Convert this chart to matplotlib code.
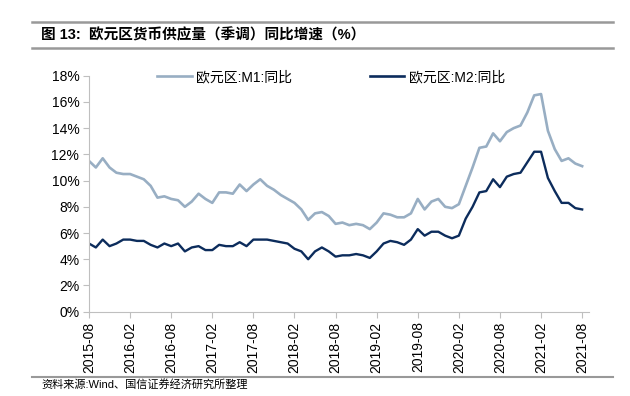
import numpy as np
import pandas as pd
from matplotlib import pyplot as plt
from matplotlib.lines import Line2D

plt.rcParams['font.family'] = ['Liberation Sans', 'Noto Sans CJK SC', 'DejaVu Sans']

# monthly data, 2015-08 .. 2021-08
months = pd.date_range("2015-08-01", "2021-08-01", freq="MS")
m1 = [11.5, 11.0, 11.7, 11.0, 10.6, 10.5, 10.5, 10.3, 10.1, 9.6,
      8.7, 8.8, 8.6, 8.5, 8.0, 8.4, 9.0, 8.6, 8.3, 9.1,
      9.1, 9.0, 9.7, 9.2, 9.7, 10.1, 9.6, 9.3, 8.9, 8.6,
      8.3, 7.8, 7.0, 7.5, 7.6, 7.3, 6.7, 6.8, 6.6, 6.7,
      6.6, 6.3, 6.8, 7.5, 7.4, 7.2, 7.2, 7.5, 8.6, 7.8,
      8.4, 8.6, 8.0, 7.9, 8.2, 9.6, 11.0, 12.5, 12.6, 13.6,
      13.0, 13.7, 14.0, 14.2, 15.2, 16.5, 16.6, 13.8, 12.4, 11.5,
      11.7, 11.3, 11.1]
m2 = [5.2, 4.9, 5.5, 5.0, 5.2, 5.5, 5.5, 5.4, 5.4, 5.1,
      4.9, 5.2, 5.0, 5.2, 4.6, 4.9, 5.0, 4.7, 4.7, 5.1,
      5.0, 5.0, 5.3, 5.0, 5.5, 5.5, 5.5, 5.4, 5.3, 5.2,
      4.8, 4.6, 4.0, 4.6, 4.9, 4.6, 4.2, 4.3, 4.3, 4.4,
      4.3, 4.1, 4.6, 5.2, 5.4, 5.3, 5.1, 5.5, 6.3, 5.8,
      6.1, 6.1, 5.8, 5.6, 5.8, 7.1, 8.0, 9.1, 9.2, 10.1,
      9.5, 10.3, 10.5, 10.6, 11.4, 12.2, 12.2, 10.2, 9.2, 8.3,
      8.3, 7.9, 7.8]
labels = [d.strftime("%Y-%m") for d in months]

c1 = "#98AEC3"
c2 = "#0C2C5C"
grey = "#BFBFBF"

fig = plt.figure(figsize=(6.3, 3.96), dpi=100)
ax = fig.add_axes([89/630, 1-311.7/396, 500/630, 236/396])

x = np.arange(len(months))
ax.plot(x, m1, color=c1, lw=1.9, solid_joinstyle="round")
ax.plot(x, m2, color=c2, lw=1.7, solid_joinstyle="round")

ax.set_xlim(0, 73)
ax.set_ylim(0, 18)
ax.set_yticks(np.arange(0, 19, 2))
ax.set_yticklabels(["{}%".format(v) for v in range(0, 19, 2)], fontsize=10)
ax.set_xticks(x[::6])
ax.set_xticklabels(labels[::6], rotation=90, fontsize=10)
for s in ["top", "right"]:
    ax.spines[s].set_visible(False)
for s in ["left", "bottom"]:
    ax.spines[s].set_color(grey)
ax.tick_params(axis="both", color=grey, length=4, direction="out", pad=3)

handles = [Line2D([], [], color=c1, lw=1.9), Line2D([], [], color=c2, lw=1.9)]
fig.legend(handles, ["欧元区:M1:同比", "欧元区:M2:同比"], ncol=2, frameon=False,
           loc="center left", bbox_to_anchor=(157/630, 1-77/396), fontsize=10,
           borderpad=0, borderaxespad=0, handlelength=2.5, handletextpad=0.3,
           columnspacing=5.6)

# header and footer
fig.add_artist(Line2D([32/630, 613/630], [1-22/396, 1-22/396], color="#999999", lw=1.8))
fig.add_artist(Line2D([32/630, 613/630], [1-48/396, 1-48/396], color="#999999", lw=1.8))
fig.text(41/630, 1-35/396, "图 13:  欧元区货币供应量（季调）同比增速（%）",
         fontsize=10.5, fontweight="bold", va="center", ha="left")
fig.add_artist(Line2D([32/630, 613/630], [1-376.7/396, 1-376.7/396], color="#999999", lw=1.5))
fig.text(41/630, 1-384/396, "资料来源:Wind、国信证券经济研究所整理",
         fontsize=8, va="center", ha="left")

fig.savefig("out.png", dpi=100)
